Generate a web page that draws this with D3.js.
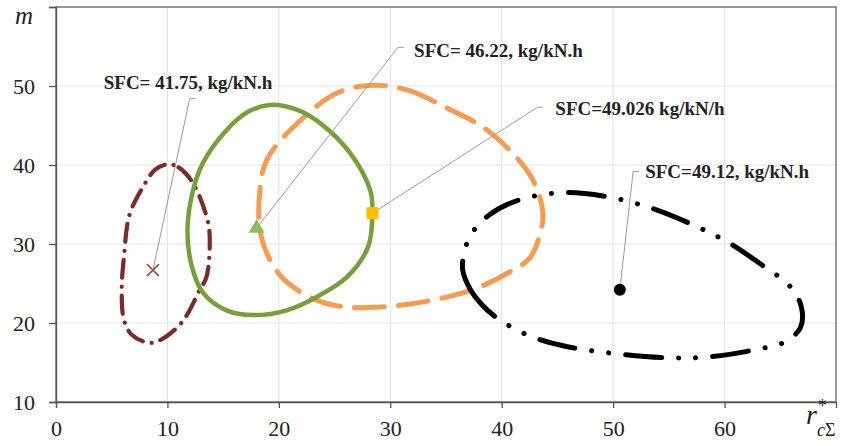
<!DOCTYPE html>
<html><head><meta charset="utf-8">
<script src="https://cdn.jsdelivr.net/npm/d3@7"></script>
<style>body{margin:0;background:#fff}svg{display:block}</style>
</head><body><svg id="c" width="847" height="446"></svg>
<script>
// ---- data ----
const xTicks = [0, 10, 20, 30, 40, 50, 60];
const yTicks = [10, 20, 30, 40, 50];
const brownCurve = [[10.0,40.1],[11.0,39.7],[12.3,37.7],[13.6,33.0],[13.8,30.5],[13.5,25.8],[12.9,24.2],[11.3,20.1],[9.3,17.8],[8.3,17.5],[6.8,18.5],[6.1,20.4],[5.9,24.2],[6.1,28.4],[6.6,33.7],[7.8,37.2],[8.9,39.4]];
const greenCurve = [[19.2,47.6],[21.6,47.0],[23.7,45.3],[26.4,41.5],[28.2,36.8],[28.4,33.9],[28.0,29.6],[26.1,25.8],[23.4,23.3],[20.7,21.6],[17.7,21.0],[15.3,21.6],[13.2,23.8],[12.2,27.1],[11.8,31.8],[12.3,36.8],[13.2,40.3],[15.3,44.4],[17.2,46.7]];
const orangeCurve = [[28.4,50.1],[31.5,49.5],[35.4,47.0],[38.3,44.8],[40.7,41.9],[42.8,38.1],[43.7,33.9],[43.4,31.1],[42.5,28.2],[40.5,26.3],[38.1,24.6],[35.4,23.4],[31.8,22.4],[28.8,22.0],[26.1,22.0],[23.4,22.9],[20.7,25.2],[19.2,28.0],[18.3,31.8],[18.3,36.8],[18.9,40.6],[21.3,44.8],[25.2,49.1]];
const blackCurve = [[36.5,26.7],[37.2,24.2],[38.1,22.5],[39.4,20.8],[41.0,19.4],[42.8,18.2],[45.9,17.0],[49.7,16.2],[54.8,15.6],[58.5,15.7],[63.4,16.8],[65.4,17.6],[66.8,19.4],[66.9,22.0],[65.9,24.6],[63.4,27.3],[60.2,30.3],[57.2,32.4],[53.3,34.6],[49.4,36.0],[45.5,36.5],[41.6,35.6],[38.9,33.7],[37.2,31.1],[36.6,28.6]];
const optimumPoints = [[8.7,26.7],[18.0,32.0],[28.4,33.9],[50.6,24.2]];
const sfcLabels = ["SFC= 41.75, kg/kN.h","SFC= 46.22, kg/kN.h","SFC=49.026 kg/kN/h","SFC=49.12, kg/kN.h"];
// label elbow points (data units)
const labelElbows = [[12.0,48.4],[30.7,54.9],[43.2,47.3],[51.8,39.2]];

// ---- layout ----
const svg = d3.select("#c");
const x = d3.scaleLinear().domain([0,70]).range([56,836]);
const y = d3.scaleLinear().domain([10,60]).range([402,7]);
const serif = "'Liberation Serif','Times New Roman',serif";

// grid
svg.append("g").selectAll("line").data(xTicks.slice(1)).join("line")
  .attr("x1",d=>x(d)).attr("x2",d=>x(d)).attr("y1",y(10)).attr("y2",y(60))
  .attr("stroke","#e3e3e3").attr("stroke-width",1);
svg.append("g").selectAll("line").data([20,30,40,50]).join("line")
  .attr("x1",x(0)).attr("x2",x(70)).attr("y1",d=>y(d)).attr("y2",d=>y(d))
  .attr("stroke","#e3e3e3").attr("stroke-width",1);

// frame
svg.append("rect").attr("x",x(0)).attr("y",y(60)).attr("width",x(70)-x(0)).attr("height",y(10)-y(60))
  .attr("fill","none").attr("stroke","#606060").attr("stroke-width",1.3);

// axes
const xAxis = svg.append("g").attr("transform",`translate(0,${y(10)})`)
  .call(d3.axisBottom(x).tickValues(xTicks).tickSize(6).tickPadding(12).tickFormat(d3.format("d")));
const yAxis = svg.append("g").attr("transform",`translate(${x(0)},0)`)
  .call(d3.axisLeft(y).tickValues(yTicks.concat([60])).tickSize(7).tickPadding(14).tickFormat(d=>d===60?"":d));
[xAxis,yAxis].forEach(a=>{
  a.select(".domain").attr("stroke","#555").attr("stroke-width",1.3);
  a.selectAll(".tick line").attr("stroke","#555").attr("stroke-width",1.3);
  a.selectAll("text").attr("font-family",serif).attr("font-size",22).attr("fill","#222");
});

// curves
const line = d3.line().x(d=>x(d[0])).y(d=>y(d[1])).curve(d3.curveCatmullRomClosed.alpha(0.5));
const curves = [
  {d:brownCurve, c:"#7a2b2a", w:4.2, dash:"18 9 0.1 9"},
  {d:orangeCurve, c:"#f69b52", w:5, dash:"30 14"},
  {d:greenCurve, c:"#77a03b", w:4.5, dash:null},
  {d:blackCurve, c:"#000", w:5, dash:"36 17 0.1 17 0.1 17"}
];
curves.forEach(s=>{
  const p = svg.append("path").attr("d",line(s.d)).attr("fill","none")
    .attr("stroke",s.c).attr("stroke-width",s.w).attr("stroke-linecap","round").attr("stroke-linejoin","round");
  if(s.dash) p.attr("stroke-dasharray",s.dash);
});

// leader lines
optimumPoints.forEach((p,i)=>{
  const e = labelElbows[i];
  svg.append("polyline").attr("points",`${x(p[0])},${y(p[1])} ${x(e[0])},${y(e[1])} ${x(e[0])+6},${y(e[1])}`)
    .attr("fill","none").attr("stroke","#999").attr("stroke-width",1);
});

// markers
const [m1,m2,m3,m4] = optimumPoints;
svg.append("path").attr("d",`M${x(m1[0])-6},${y(m1[1])-6}L${x(m1[0])+6},${y(m1[1])+6}M${x(m1[0])-6},${y(m1[1])+6}L${x(m1[0])+6},${y(m1[1])-6}`)
  .attr("stroke","#a5534f").attr("stroke-width",1.8).attr("fill","none");
svg.append("path").attr("d",d3.symbol(d3.symbolTriangle,110)()).attr("transform",`translate(${x(m2[0])},${y(m2[1])})`)
  .attr("fill","#8dbb5e");
svg.append("rect").attr("x",x(m3[0])-6).attr("y",y(m3[1])-6).attr("width",12).attr("height",12).attr("fill","#ffc000");
svg.append("circle").attr("cx",x(m4[0])).attr("cy",y(m4[1])).attr("r",6).attr("fill","#000");

// labels
const labelOffsets = [[-86,-10],[16,10],[18,8],[12,7]];
sfcLabels.forEach((t,i)=>{
  const e = labelElbows[i];
  svg.append("text").attr("x",x(e[0])+labelOffsets[i][0]).attr("y",y(e[1])+labelOffsets[i][1])
    .attr("font-family",serif).attr("font-weight","bold").attr("font-size",19).attr("fill","#222").text(t);
});

// axis titles
svg.append("text").attr("x",15).attr("y",24).attr("font-family",serif).attr("font-style","italic")
  .attr("font-size",25).attr("fill","#222").text("m");
const xt = svg.append("text").attr("x",806).attr("y",424).attr("font-family",serif).attr("font-style","italic")
  .attr("font-size",28).attr("fill","#222");
xt.append("tspan").text("r");
xt.append("tspan").attr("font-size",18).attr("dy",-12).text("*");
xt.append("tspan").attr("font-size",18).attr("dx",-9).attr("dy",24).text("c");
xt.append("tspan").attr("font-size",18).attr("font-style","normal").text("Σ");
</script></body></html>
